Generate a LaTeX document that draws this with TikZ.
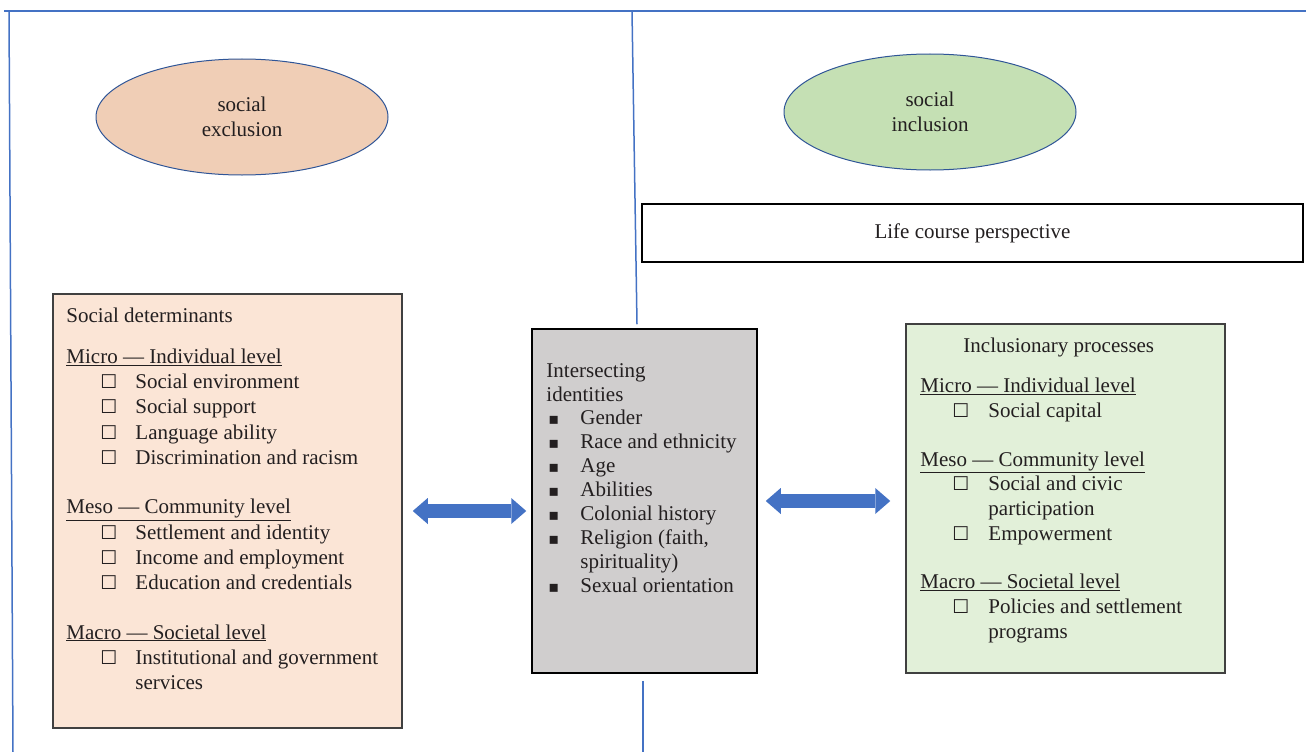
\documentclass[tikz,border=0pt]{standalone}
\usepackage{fontspec}
\setmainfont{Liberation Serif}
\newfontfamily\symfont{DejaVu Sans}
\usetikzlibrary{arrows.meta,positioning,shapes.geometric}

\definecolor{exclfill}{HTML}{F0CEB6}
\definecolor{inclfill}{HTML}{C5E0B4}
\definecolor{detfill}{HTML}{FBE5D6}
\definecolor{idfill}{HTML}{D0CECE}
\definecolor{procfill}{HTML}{E2F0D9}
\definecolor{lineblue}{HTML}{4472C4}
\definecolor{rimblue}{HTML}{2F5597}
\definecolor{inkgray}{HTML}{231F20}

\newcommand{\chkbox}{{\symfont\fontsize{19}{19}\selectfont ☐}}
\newcommand{\sqbullet}{{\symfont\fontsize{16}{16}\selectfont ▪}}
\newcommand{\detitem}[1]{\hspace*{34pt}\makebox[35pt][l]{\chkbox}#1}
\newcommand{\procitem}[1]{\hspace*{32pt}\makebox[36pt][l]{\chkbox}#1}
\newcommand{\iditem}[1]{\hspace*{2pt}\makebox[32pt][l]{\sqbullet}#1}

\begin{document}
\begin{tikzpicture}[
  x=1pt, y=-1pt,
  every node/.style={text=inkgray},
  body/.style={font=\fontsize{21}{25}\selectfont},
  oval/.style={ellipse, draw=rimblue, line width=1pt, minimum width=292pt, minimum height=116pt, body, align=center},
  panel/.style={draw=black!75, line width=1.5pt, inner sep=0pt},
  listtext/.style={inner sep=0pt, align=left, anchor=north west},
  frameline/.style={lineblue, line width=1.5pt},
  twoway/.style={lineblue, line width=14pt,
    {Triangle[width=26pt,length=15pt,line width=0pt]}-{Triangle[width=26pt,length=15pt,line width=0pt]}}
]
\useasboundingbox (0,0) rectangle (1306,752);

% frame lines
\coordinate (topleft) at (4,11);
\coordinate (topright) at (1306,11);
\coordinate (leftfoot) at (13,752);
\coordinate (midtop) at (632,11);
\coordinate (midfoot) at (643,752);
\draw[frameline] (topleft) -- (topright);
\draw[frameline] (9,11) -- (leftfoot);

% ovals
\node[oval, fill=exclfill] (excl) at (242,117) {social\\exclusion};
\node[oval, fill=inclfill] (incl) at (930,112) {social\\inclusion};

% boxes
\node[panel, draw=black, fill=white, minimum width=661pt, minimum height=58pt, body] (life) at (972.5,233) {Life course perspective};
\node[panel, fill=detfill, minimum width=349pt, minimum height=434pt] (detbox) at (227.5,511) {};
\node[panel, draw=black, fill=idfill, minimum width=225pt, minimum height=344pt] (idbox) at (644.5,501) {};
\node[panel, fill=procfill, minimum width=319pt, minimum height=349pt] (procbox) at (1065.5,498.5) {};

\draw[frameline] (midtop) -- ([xshift=-7.5pt,yshift=4pt]idbox.north);
\draw[frameline] ([xshift=-1.5pt,yshift=-7pt]idbox.south) -- (midfoot);

% box texts
\node[listtext, body, font=\fontsize{21}{25.3}\selectfont] (dettext) at ([xshift=14pt,yshift=-14pt]detbox.north west) {%
Social determinants\\[16pt]
\underline{Micro — Individual level}\\
\detitem{Social environment}\\
\detitem{Social support}\\
\detitem{Language ability}\\
\detitem{Discrimination and racism}\\[24pt]
\underline{Meso — Community level}\\
\detitem{Settlement and identity}\\
\detitem{Income and employment}\\
\detitem{Education and credentials}\\[24pt]
\underline{Macro — Societal level}\\
\detitem{Institutional and government}\\
\hspace*{69pt}services};

\node[listtext, body, font=\fontsize{21}{24}\selectfont] (idtext) at ([xshift=15pt,yshift=-35pt]idbox.north west) {%
Intersecting\\
identities\\[-1pt]
\iditem{Gender}\\
\iditem{Race and ethnicity}\\
\iditem{Age}\\
\iditem{Abilities}\\
\iditem{Colonial history}\\
\iditem{Religion (faith,}\\
\hspace*{34pt}spirituality)\\
\iditem{Sexual orientation}};

\node[listtext, body, font=\fontsize{21}{24.7}\selectfont] (proctext) at ([xshift=15pt,yshift=-14pt]procbox.north west) {%
\hspace*{43pt}Inclusionary processes\\[16pt]
\underline{Micro — Individual level}\\
\procitem{Social capital}\\[24pt]
\underline{Meso — Community level}\\
\procitem{Social and civic}\\
\hspace*{68pt}participation\\
\procitem{Empowerment}\\[24pt]
\underline{Macro — Societal level}\\
\procitem{Policies and settlement}\\
\hspace*{68pt}programs};

% two-way arrows
\draw[twoway] ([xshift=10pt]detbox.east) -- ([xshift=-5pt]idbox.west |- detbox.east);
\draw[twoway] ([xshift=8pt]idbox.east) -- ([xshift=-15pt]procbox.west |- idbox.east);
\end{tikzpicture}
\end{document}
